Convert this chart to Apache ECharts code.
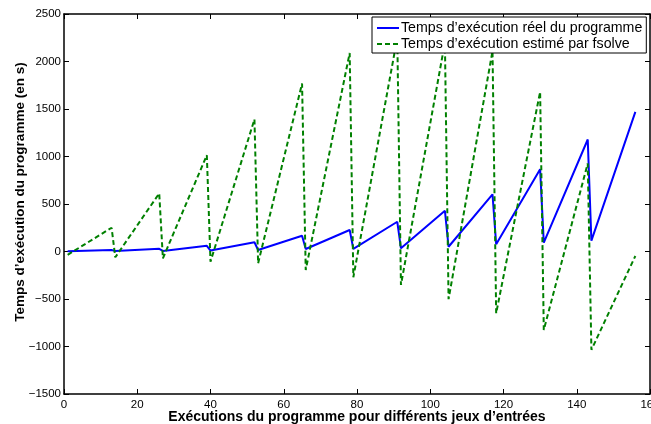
<!DOCTYPE html>
<html>
<head>
<meta charset="utf-8">
<script src="https://cdn.jsdelivr.net/npm/echarts@6/dist/echarts.min.js"></script>
<style>
html,body{margin:0;padding:0;background:#fff;}
#chart{width:651px;height:424px;}
</style>
</head>
<body>
<div id="chart"></div>
<script>
// Vertices of the two polylines (x = execution index)
var runIndex = [1, 13, 14, 26, 27, 39, 40, 52, 53, 65, 66, 78, 79, 91, 92, 104, 105, 117, 118, 130, 131, 143, 144, 156];
var realTime = [2, 16, 4, 28, 6, 60, 10, 97, 16, 166, 26, 226, 28, 313, 34, 429, 50, 601, 76, 867, 93, 1179, 114, 1469];
var estimatedTime = [-35, 250, -61, 612, -72, 1014, -107, 1392, -124, 1768, -194, 2090, -271, 2250, -352, 2200, -502, 2110, -650, 1680, -825, 927, -1035, -47];
var seriesNames = ['Temps d’exécution réel du programme', 'Temps d’exécution estimé par fsolve'];
var xTicks = [0, 20, 40, 60, 80, 100, 120, 140, 160];
var yTicks = [-1500, -1000, -500, 0, 500, 1000, 1500, 2000, 2500];

function pairs(xs, ys) { return xs.map(function (x, i) { return [x, ys[i]]; }); }

var font = '"Liberation Sans", Arial, Helvetica, sans-serif';
var chart = echarts.init(document.getElementById('chart'), null, {renderer: 'canvas'});

var axisLineStyle = {show: true, onZero: false, lineStyle: {color: '#000', width: 1.5}};
var tickStyle = {show: true, inside: true, length: 5, lineStyle: {color: '#000', width: 1}};

var option = {
  animation: false,
  backgroundColor: '#fff',
  grid: {left: 64, right: 1, top: 14, bottom: 30, containLabel: false, outerBoundsMode: 'none'},
  legend: {
    orient: 'vertical',
    left: 372, top: 17,
    itemWidth: 22, itemHeight: 14, itemGap: 2,
    padding: [4, 4, 2, 4],
    borderColor: '#000', borderWidth: 1,
    backgroundColor: '#fff',
    itemStyle: {color: 'transparent', borderWidth: 0, opacity: 0},
    textStyle: {fontFamily: font, fontSize: 14.2, color: '#000', padding: [0, 0, 0, -3]},
    data: seriesNames
  },
  xAxis: [{
    type: 'value', min: xTicks[0], max: xTicks[xTicks.length - 1], interval: 20,
    position: 'bottom',
    axisLine: axisLineStyle, axisTick: tickStyle, splitLine: {show: false},
    axisLabel: {fontFamily: font, fontSize: 11.5, color: '#000', margin: 5},
    name: 'Exécutions du programme pour différents jeux d’entrées',
    nameLocation: 'middle', nameGap: 16, nameMoveOverlap: false,
    nameTextStyle: {fontFamily: font, fontSize: 14, fontWeight: 'bold', color: '#000'}
  }, {
    type: 'value', min: xTicks[0], max: xTicks[xTicks.length - 1], interval: 20,
    position: 'top',
    axisLine: axisLineStyle, axisTick: tickStyle, splitLine: {show: false},
    axisLabel: {show: false}
  }],
  yAxis: [{
    type: 'value', min: yTicks[0], max: yTicks[yTicks.length - 1], interval: 500,
    position: 'left',
    axisLine: axisLineStyle, axisTick: tickStyle, splitLine: {show: false},
    axisLabel: {fontFamily: font, fontSize: 11.5, color: '#000', margin: 3,
      formatter: function (v) { return String(v).replace('-', '\u2212'); }},
    name: 'Temps d’exécution du programme (en s)',
    nameLocation: 'middle', nameGap: 37, nameRotate: 90, nameMoveOverlap: false,
    nameTextStyle: {fontFamily: font, fontSize: 13.5, fontWeight: 'bold', color: '#000', padding: [0, 0, 0, 24]}
  }, {
    type: 'value', min: yTicks[0], max: yTicks[yTicks.length - 1], interval: 500,
    position: 'right',
    axisLine: axisLineStyle, axisTick: tickStyle, splitLine: {show: false},
    axisLabel: {show: false}
  }],
  series: [{
    name: seriesNames[0], type: 'line', xAxisIndex: 0, yAxisIndex: 0,
    data: pairs(runIndex, realTime),
    symbol: 'none', showSymbol: false,
    lineStyle: {color: '#0000ff', width: 2}, itemStyle: {color: '#0000ff'}
  }, {
    name: seriesNames[1], type: 'line', xAxisIndex: 0, yAxisIndex: 0,
    data: pairs(runIndex, estimatedTime),
    symbol: 'none', showSymbol: false,
    lineStyle: {color: '#008000', width: 2, type: [5, 3]}, itemStyle: {color: '#008000'}
  }]
};
chart.setOption(option);
</script>
</body>
</html>
